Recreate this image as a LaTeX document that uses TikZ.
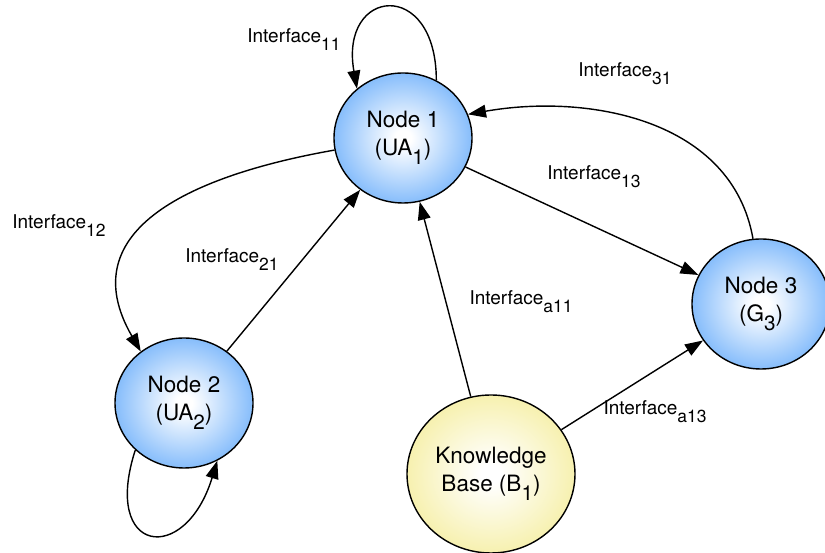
\documentclass[tikz,border=0pt]{standalone}
\usepackage{fontspec}
\setmainfont{TeX Gyre Heros}
\usepackage{xcolor}
\usepackage{tikz}
\usetikzlibrary{shapes.geometric, arrows.meta, positioning}

\definecolor{agentblue}{RGB}{96,168,250}
\definecolor{agentedge}{RGB}{80,155,245}
\definecolor{kbyellow}{RGB}{244,236,150}
\definecolor{kbedge}{RGB}{238,228,128}
\pgfdeclareradialshading{agentshade}{\pgfpoint{0bp}{0bp}}{color(0bp)=(white); color(3bp)=(white); color(32bp)=(agentblue); color(50bp)=(agentedge)}
\pgfdeclareradialshading{kbshade}{\pgfpoint{0bp}{0bp}}{color(0bp)=(white); color(3bp)=(white); color(32bp)=(kbyellow); color(50bp)=(kbedge)}
\newcommand{\lowsub}[1]{\raisebox{-0.8ex}{\scalebox{0.92}{#1}}}

\tikzset{
  agent/.style={ellipse, draw, line width=1pt, shading=agentshade, inner sep=0pt,
    minimum width=3.45cm, minimum height=3.25cm, align=center,
    font=\fontsize{16}{19.5}\selectfont},
  kbase/.style={agent, shading=kbshade, minimum width=4.2cm, minimum height=3.95cm},
  iface/.style={font=\fontsize{13.5}{16}\selectfont},
  link/.style={-{Triangle[length=0.45cm,width=0.32cm]}, line width=1pt}
}

\begin{document}
\begin{tikzpicture}
  \useasboundingbox (0,0) rectangle (20.625,13.825);
  \node[agent] (n1) at (10.075,10.375) {Node 1\\(UA\lowsub{1})};
  \node[agent] (n2) at (4.6,3.75) {Node 2\\(UA\lowsub{2})};
  \node[agent] (n3) at (19.025,6.225) {Node 3\\(G\lowsub{3})};
  \node[kbase] (kb) at (12.275,1.975) {Knowledge\\Base (B\lowsub{1})};
  \draw[link] (n1.60) to[out=90, in=100, looseness=3.3] (n1.133);
  \draw[link] (n1) -- (n3);
  \draw[link] (n3.97) to[out=100, in=10] (n1.20);
  \draw[link] (n1.190) to[out=190, in=120, looseness=1.3] (n2.130);
  \draw[link] (n2) -- (n1);
  \draw[link] (kb) -- (n1);
  \draw[link] (kb) -- (n3);
  \draw[link] (n2.224) to[out=252, in=253, looseness=3.4] (n2.300);
  \node[iface] (l11) at (7.35,12.825) {Interface\lowsub{11}};
  \node[iface] (l31) at (15.625,11.975) {Interface\lowsub{31}};
  \node[iface] (l13) at (14.85,9.4) {Interface\lowsub{13}};
  \node[iface] (l12) at (1.475,8.175) {Interface\lowsub{12}};
  \node[iface] (l21) at (5.8,7.325) {Interface\lowsub{21}};
  \node[iface] (la11) at (13.025,6.275) {Interface\lowsub{a11}};
  \node[iface] (la13) at (16.375,3.525) {Interface\lowsub{a13}};
\end{tikzpicture}
\end{document}
